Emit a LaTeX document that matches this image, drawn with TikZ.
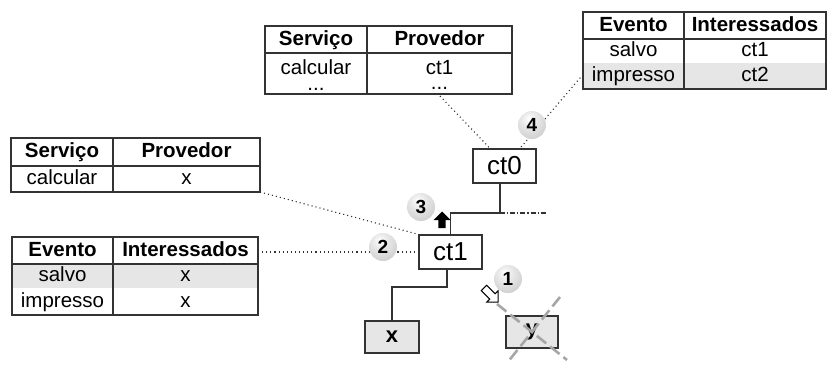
\documentclass[tikz,border=0pt]{standalone}
\usepackage{fontspec}
\setmainfont{Liberation Sans}
\usetikzlibrary{calc}
\definecolor{linec}{HTML}{333333}
\definecolor{rowg}{HTML}{E6E6E6}
\definecolor{crossg}{HTML}{A6A6A6}
\pgfdeclareradialshading{softball}{\pgfpoint{-6bp}{12bp}}{color(0bp)=(white); color(12bp)=(white!92!black); color(40bp)=(white!78!black); color(62bp)=(white!64!black); color(100bp)=(white!64!black)}
\begin{document}
\begin{tikzpicture}[x=1pt,y=-1pt,
  frame/.style={draw=linec,line width=1.2pt,rectangle,inner sep=0pt,outer sep=0pt},
  tbl/.style={draw=linec,line width=1.2pt},
  hdr/.style={font=\bfseries\fontsize{20.5}{24}\selectfont,inner sep=0pt,text height=15pt,text depth=4pt},
  cell/.style={font=\fontsize{20.5}{24}\selectfont,inner sep=0pt,text height=15pt,text depth=4pt},
  twoline/.style={font=\fontsize{20.5}{15.5}\selectfont,inner sep=0pt,align=center},
  comp/.style={draw=linec,line width=1.3pt,fill=white,rectangle,inner sep=0pt,minimum width=63pt,minimum height=34pt,font=\fontsize{26}{30}\selectfont},
  leaf/.style={draw=linec,line width=1.3pt,fill=rowg,rectangle,inner sep=0pt,minimum height=32pt,font=\bfseries\fontsize{22}{26}\selectfont},
  conn/.style={draw=linec,line width=1.1pt,dash pattern=on 1.1pt off 3pt},
  tree/.style={draw=linec,line width=1.4pt},
  dashdot/.style={draw=linec,line width=1.1pt,dash pattern=on 5pt off 2pt on 1.2pt off 2pt},
  crossl/.style={draw=crossg,line width=2.6pt,dash pattern=on 12pt off 5pt},
  ballnd/.style={circle,shading=softball,minimum size=28pt,inner sep=0pt,font=\bfseries\fontsize{19}{21}\selectfont}
]
\useasboundingbox (0,0) rectangle (827,364);

% ---------- Table A (top middle) ----------
\node[frame,minimum width=247pt,minimum height=68pt] (tabA) at (388.5,60) {};
\draw[tbl] (265,53) -- (512,53);
\draw[tbl] (367,26) -- (367,94);
\node[hdr] (a11) at (316,40) {Serviço};
\node[hdr] (a12) at (439.5,40) {Provedor};
\node[twoline] (a21) at (316,75) {calcular\\...};
\node[twoline] (a22) at (439.5,75) {ct1\\...};

% ---------- Table B (top right) ----------
\fill[rowg] (583,63) rectangle (826,89);
\node[frame,minimum width=243pt,minimum height=77pt] (tabB) at (704.5,50.5) {};
\draw[tbl] (583,39) -- (826,39);
\draw[tbl] (684,12) -- (684,89);
\node[hdr] (b11) at (633.5,26) {Evento};
\node[hdr] (b12) at (755,26) {Interessados};
\node[cell] (b21) at (633.5,51) {salvo};
\node[cell] (b22) at (755,51) {ct1};
\node[cell] (b31) at (633.5,76) {impresso};
\node[cell] (b32) at (755,76) {ct2};

% ---------- Table C (left, middle) ----------
\node[frame,minimum width=249pt,minimum height=54pt] (tabC) at (135.5,165) {};
\draw[tbl] (11,166) -- (260,166);
\draw[tbl] (113,138) -- (113,192);
\node[hdr] (c11) at (62,152) {Serviço};
\node[hdr] (c12) at (186.5,152) {Provedor};
\node[cell] (c21) at (62,179) {calcular};
\node[cell] (c22) at (186.5,179) {x};

% ---------- Table D (left, bottom) ----------
\fill[rowg] (12,264) rectangle (258,288);
\node[frame,minimum width=246pt,minimum height=78pt] (tabD) at (135,276) {};
\draw[tbl] (12,264) -- (258,264);
\draw[tbl] (113,237) -- (113,315);
\node[hdr] (d11) at (62.5,250.5) {Evento};
\node[hdr] (d12) at (185.5,250.5) {Interessados};
\node[cell] (d21) at (62.5,276) {salvo};
\node[cell] (d22) at (185.5,276) {x};
\node[cell] (d31) at (62.5,301.5) {impresso};
\node[cell] (d32) at (185.5,301.5) {x};

% ---------- components ----------
\node[comp] (ct0) at (504.5,166) {ct0};
\node[comp] (ct1) at (450.5,252) {ct1};
\node[leaf,minimum width=54pt] (xn) at (392,337) {x};
\node[leaf,minimum width=52pt] (yn) at (532,332) {y};

% tree lines
\coordinate (j0) at (500,213);
\coordinate (j1) at (447,287);
\draw[tree] (j0 |- ct0.south) -- (j0) -| (ct1.north);
\draw[dashdot] (j0) -- ++(47,0);
\draw[tree] (j1 |- ct1.south) -- (j1) -| (xn.north);

% cross over y
\draw[crossl] ($(yn.center)+(-35,-28)$) -- ($(yn.center)+(35,28)$);
\draw[crossl] ($(yn.center)+(28,-35)$) -- ($(yn.center)+(-25,31)$);

% dotted connectors
\draw[conn] ($(tabA.south)+(51.5,2)$) -- ($(ct0.north)+(-14.5,0)$);
\draw[conn] ($(tabB.west)+(0,24)$) -- ($(ct0.north)+(15.5,0)$);
\draw[conn] (tabC.south east) -- (ct1.north west);
\draw[conn] (tabD.east |- ct1.west) -- (ct1.west);

% arrows
\coordinate (ar3) at (442,220);
\fill[black] ($(ar3)+(0,-8.5)$) -- ($(ar3)+(8.5,0)$) -- ($(ar3)+(3.6,0)$) -- ($(ar3)+(3.6,8)$)
  -- ($(ar3)+(-3.6,8)$) -- ($(ar3)+(-3.6,0)$) -- ($(ar3)+(-8.5,0)$) -- cycle;
\begin{scope}[shift={(491,295)},rotate=-45]
  \draw[draw=black,fill=white,line width=1pt,line join=miter]
    (10,0) -- (2,-8) -- (2,-3.8) -- (-10,-3.8) -- (-10,3.8) -- (2,3.8) -- (2,8) -- cycle;
\end{scope}

% numbered balls
\node[ballnd] (n1) at (508,279) {1};
\node[ballnd] (n2) at (383,247) {2};
\node[ballnd] (n3) at (421,207) {3};
\node[ballnd] (n4) at (532,125) {4};
\end{tikzpicture}
\end{document}
